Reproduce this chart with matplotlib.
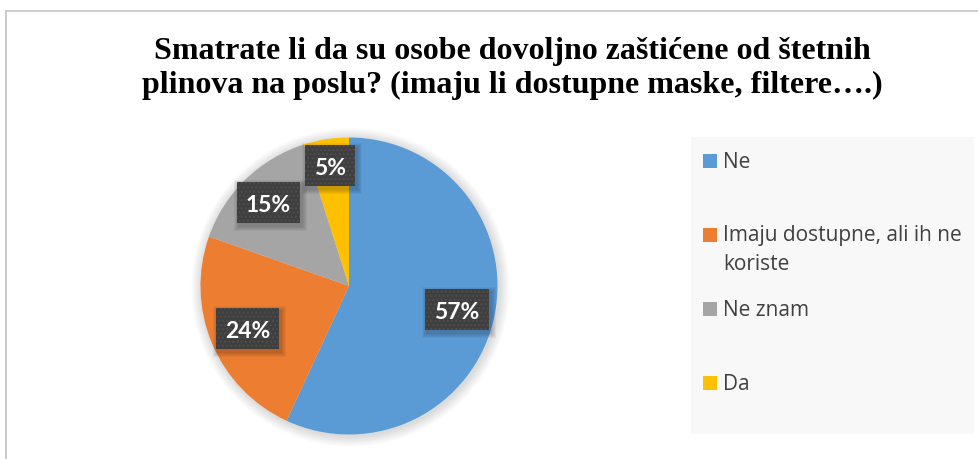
import matplotlib
matplotlib.use("Agg")
import matplotlib.pyplot as plt
from matplotlib.patches import Rectangle, Circle
from matplotlib.transforms import IdentityTransform
import numpy as np

# ---- data ----
title = "Smatrate li da su osobe dovoljno zaštićene od štetnih\nplinova na poslu? (imaju li dostupne maske, filtere….)"
categories = ["Ne", "Imaju dostupne, ali ih ne koriste", "Ne znam", "Da"]
legend_labels = ["Ne", "Imaju dostupne, ali ih ne\nkoriste", "Ne znam", "Da"]
shares = [56.9, 23.5, 14.7, 4.9]
pct_labels = ["57%", "24%", "15%", "5%"]

colors = ["#5B9BD5", "#ED7D31", "#A5A5A5", "#FFC000"]
label_dist = [0.745, 0.74, 0.78, 0.82]

W, H = 979, 459
fig = plt.figure(figsize=(W / 100, H / 100), dpi=100)
fig.patch.set_facecolor("white")

def fx(px):
    return px / W

def fy(py):
    return 1 - py / H

# chart border (left and top visible)
fig.add_artist(Rectangle((fx(6), fy(1000)), fx(1100), (1000 - 11) / H,
                         transform=fig.transFigure, fill=False,
                         edgecolor="#C8C8C8", linewidth=1.3, clip_on=False))

# title (baseline of the last line)
fig.text(fx(512), fy(93), title, ha="center", va="baseline",
         fontsize=23, fontweight="bold", family="Liberation Serif",
         color="black", linespacing=1.2)

# pie axes
cx, cy, r = 349, 286, 148.5
ax = fig.add_axes([fx(cx - r), fy(cy + r), 2 * r / W, 2 * r / H])

# soft shadow around pie
for k in range(12):
    rr = 1.0 + 0.006 * (12 - k)
    ax.add_patch(Circle((0.01, -0.01), rr, color="black", alpha=0.012,
                        linewidth=0, clip_on=False, zorder=0))

wedges, _ = ax.pie(shares, colors=colors, startangle=90, counterclock=False,
                   radius=1.0, wedgeprops=dict(linewidth=0))
for w in wedges:
    w.set_zorder(2)
ax.set_xlim(-1, 1)
ax.set_ylim(-1, 1)
ax.set_axis_off()

# data labels (text first, boxes sized from the text afterwards)
label_texts, anchors = [], []
for w, lab, d in zip(wedges, pct_labels, label_dist):
    ang = np.deg2rad((w.theta1 + w.theta2) / 2)
    x, y = d * np.cos(ang), d * np.sin(ang)
    t = ax.annotate(lab, (x, y), xytext=(0, -6.6), textcoords="offset points",
                    ha="center", va="baseline", fontsize=16.5,
                    fontweight="bold", family="Lato", color="white",
                    zorder=6)
    label_texts.append(t)
    anchors.append((x, y))

fig.canvas.draw()
renderer = fig.canvas.get_renderer()
pad_x, box_h = 9, 41
for t, (x, y) in zip(label_texts, anchors):
    tb = t.get_window_extent(renderer)
    px, py = ax.transData.transform((x, y))
    bw = tb.width + 2 * pad_x
    x0, y0 = px - bw / 2, py - box_h / 2
    # soft shadow
    for k in range(5):
        g = 1 + k
        ax.add_patch(Rectangle((x0 + 2 - g, y0 - 3 - g), bw + 2 * g, box_h + 2 * g,
                               transform=IdentityTransform(), facecolor="black",
                               alpha=0.045, linewidth=0, zorder=4, clip_on=False))
    # dotted dark box
    ax.add_patch(Rectangle((x0, y0), bw, box_h, transform=IdentityTransform(),
                           facecolor="#3F3F3F", edgecolor="#4E4E4E",
                           linewidth=0, hatch="....", zorder=5, clip_on=False))

# legend panel
fig.add_artist(Rectangle((fx(691), fy(434)), fx(974 - 691), (434 - 137) / H,
                         transform=fig.transFigure, facecolor="#F8F8F8",
                         edgecolor="none", zorder=0))
base0, step, line_px = 168, 74, 28
for i, (lab, c) in enumerate(zip(legend_labels, colors)):
    b = base0 + i * step
    nlines = lab.count("\n")
    fig.add_artist(Rectangle((fx(703), fy(b)), fx(14), 14 / H,
                             transform=fig.transFigure, facecolor=c,
                             edgecolor="none"))
    fig.text(fx(723), fy(b + nlines * line_px), lab, ha="left", va="baseline",
             fontsize=15, family="Open Sans", color="#404040",
             linespacing=1.5)

fig.savefig("out.png", dpi=100)
